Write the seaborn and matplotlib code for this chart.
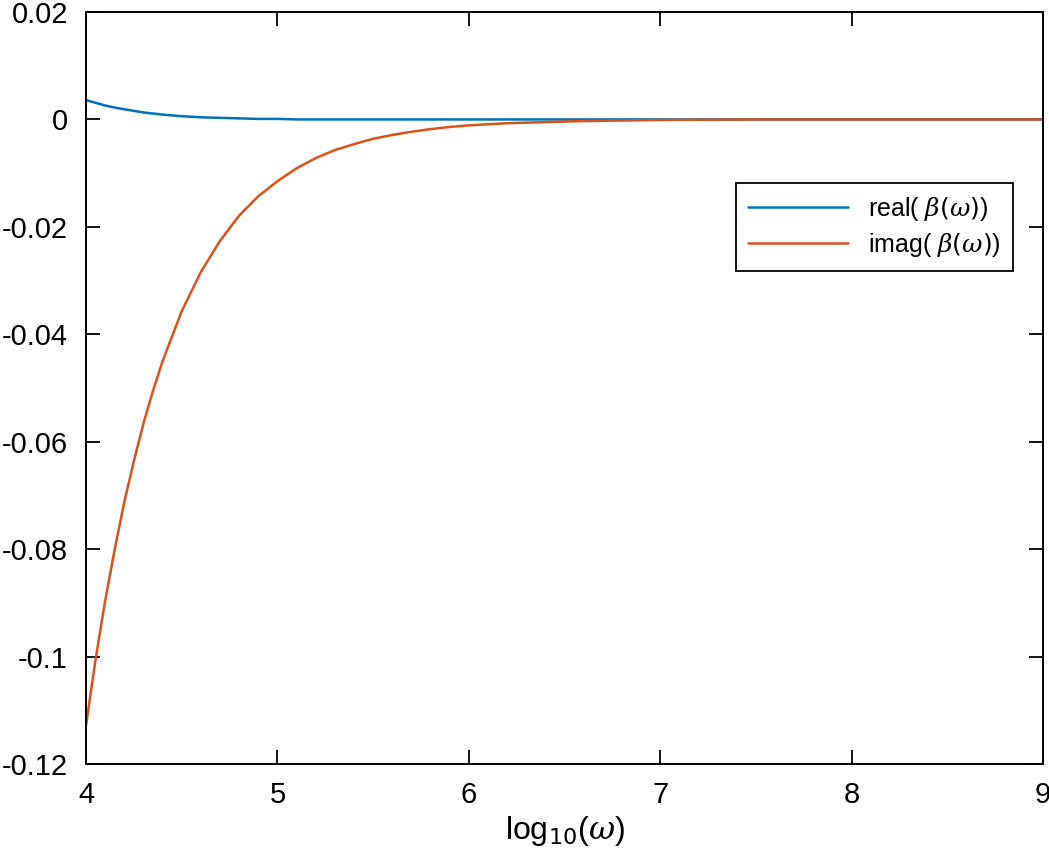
import numpy as np
import pandas as pd
import seaborn as sns
import matplotlib
matplotlib.use('Agg')
import matplotlib.pyplot as plt

# values
log_w = [4.0, 4.05, 4.1, 4.15, 4.2, 4.25, 4.3, 4.35, 4.4, 4.5, 4.6, 4.7, 4.8, 4.9,
         5.0, 5.1, 5.2, 5.3, 5.4, 5.5, 5.6, 5.7, 5.8, 5.9,
         6.0, 6.2, 6.4, 6.6, 6.8, 7.0, 7.5, 8.0, 8.5, 9.0]
beta_real = [0.0036, 0.0031, 0.0026, 0.0022, 0.0019, 0.0016, 0.0013, 0.0011, 0.0009, 0.0006,
             0.0004, 0.0003, 0.0002, 0.0001,
             0.0001, 0.0, 0.0, 0.0, 0.0, 0.0, 0.0, 0.0, 0.0, 0.0,
             0.0, 0.0, 0.0, 0.0, 0.0, 0.0, 0.0, 0.0, 0.0, 0.0]
beta_imag = [-0.1128, -0.1005, -0.0896, -0.0800, -0.0712, -0.0636, -0.0566, -0.0505, -0.0450,
             -0.0357, -0.0284, -0.0226, -0.0179, -0.0143,
             -0.0115, -0.0091, -0.0072, -0.0057, -0.0046, -0.0036, -0.0029, -0.0023, -0.0018, -0.0014,
             -0.0011, -0.0007, -0.0005, -0.0003, -0.0002, -0.0001, 0.0, 0.0, 0.0, 0.0]
labels = [r'real( $\beta(\omega)$)', r'imag( $\beta(\omega)$)']
colors = ['#0072BD', '#D95319']

df = pd.DataFrame({
    'x': log_w * 2,
    'y': beta_real + beta_imag,
    'part': [labels[0]] * len(log_w) + [labels[1]] * len(log_w),
})

sns.set_style('ticks', {'xtick.direction': 'in', 'ytick.direction': 'in',
                        'axes.edgecolor': 'black', 'text.color': 'black',
                        'xtick.color': 'black', 'ytick.color': 'black',
                        'axes.labelcolor': 'black'})
plt.rcParams['font.family'] = ['Liberation Sans', 'DejaVu Sans']
plt.rcParams['mathtext.fontset'] = 'custom'
plt.rcParams['mathtext.it'] = 'DejaVu Serif:italic'

fig = plt.figure(figsize=(10.49, 8.64), dpi=100)
ax = fig.add_axes([0.082, 0.1157, 0.9123, 0.8704])

sns.lineplot(data=df, x='x', y='y', hue='part', palette=colors, linewidth=1.8, ax=ax)

ax.set_xlim(4, 9)
ax.set_ylim(-0.12, 0.02)
ax.set_xticks([4, 5, 6, 7, 8, 9])
ax.set_yticks([-0.12, -0.1, -0.08, -0.06, -0.04, -0.02, 0, 0.02])
ax.set_yticklabels(['-0.12', '-0.1', '-0.08', '-0.06', '-0.04', '-0.02', '0', '0.02'])
ax.tick_params(axis='both', which='both', direction='in', top=True, right=True,
               length=10, width=1.3, labelsize=21, colors='black')
ax.tick_params(axis='y', pad=13)
ax.tick_params(axis='x', pad=12)
for s in ax.spines.values():
    s.set_linewidth(1.4)
    s.set_color('black')

ax.set_xlabel(r'log$_{10}$($\omega$)', fontsize=23, labelpad=4)
ax.set_ylabel('')

leg = ax.legend(title=None, loc='upper right', bbox_to_anchor=(0.969, 0.773),
                borderaxespad=0, fontsize=18, handlelength=4.0, fancybox=False,
                framealpha=1, edgecolor='black', borderpad=0.5, labelspacing=0.3)
leg.get_frame().set_linewidth(1.3)

plt.savefig('out.png')
